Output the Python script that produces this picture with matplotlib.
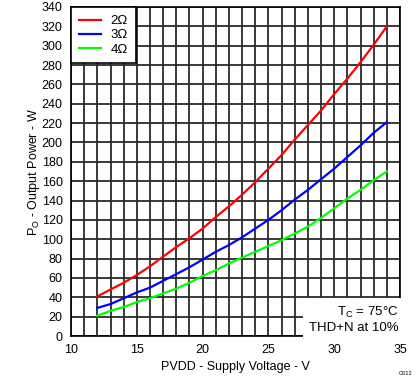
import matplotlib.pyplot as plt
from matplotlib.ticker import MultipleLocator

plt.rcParams['font.family'] = ['Liberation Sans', 'DejaVu Sans']
plt.rcParams['font.size'] = 9

# Supply voltage (V) and output power (W) per load
pvdd = [12, 13, 14, 15, 16, 17, 18, 19, 20, 21, 22, 23,
        24, 25, 26, 27, 28, 29, 30, 31, 32, 33, 34]
p_2ohm = [41, 48, 55, 63, 72, 82, 92, 101, 111, 123, 134, 146,
          159, 173, 187, 203, 218, 233, 250, 266, 283, 301, 320]
p_3ohm = [29, 33, 39, 45, 50, 57, 64, 71, 79, 87, 94, 102,
          111, 120, 130, 141, 151, 162, 173, 185, 197, 210, 221]
p_4ohm = [21, 26, 30, 35, 39, 44, 49, 55, 62, 68, 75, 81,
          87, 93, 99, 106, 113, 122, 132, 142, 151, 161, 170]

fig = plt.figure(figsize=(4.19, 3.82), dpi=100)
ax = fig.add_axes([0.1695, 0.1204, 0.7852, 0.8613])

ax.plot(pvdd, p_2ohm, color='#ff0000', lw=1.6, label='2\u03a9')
ax.plot(pvdd, p_3ohm, color='#0000ff', lw=1.6, label='3\u03a9')
ax.plot(pvdd, p_4ohm, color='#00ff00', lw=1.6, label='4\u03a9')

ax.set_xlim(10, 35)
ax.set_ylim(0, 340)
ax.xaxis.set_major_locator(MultipleLocator(5))
ax.xaxis.set_minor_locator(MultipleLocator(1))
ax.yaxis.set_major_locator(MultipleLocator(20))
ax.grid(True, which='both', color='#2a2a2a', lw=1.3)
ax.set_axisbelow(True)
ax.tick_params(which='both', length=0, pad=6)
for s in ax.spines.values():
    s.set_color('black')
    s.set_linewidth(1.2)

ax.set_xlabel('PVDD - Supply Voltage - V', labelpad=3)
ax.set_ylabel('P$_\\mathregular{O}$ - Output Power - W', labelpad=0)

leg = ax.legend(loc='upper left', borderaxespad=0, fancybox=False,
                edgecolor='black', framealpha=1, handlelength=1.7,
                labelspacing=0.15, borderpad=0.6, handletextpad=0.7,
                fontsize=9.5)
leg.get_frame().set_linewidth(1.2)

ax.text(0.995, 0.005, 'T$_\\mathregular{C}$ = 75\u00b0C\nTHD+N at 10%',
        transform=ax.transAxes, ha='right', va='bottom', linespacing=1.25,
        fontsize=9.5, bbox=dict(facecolor='white', edgecolor='none', pad=4))

fig.text(0.967, 0.016, 'G012', fontsize=4, ha='center', va='bottom')

plt.savefig('out.png', dpi=100)
